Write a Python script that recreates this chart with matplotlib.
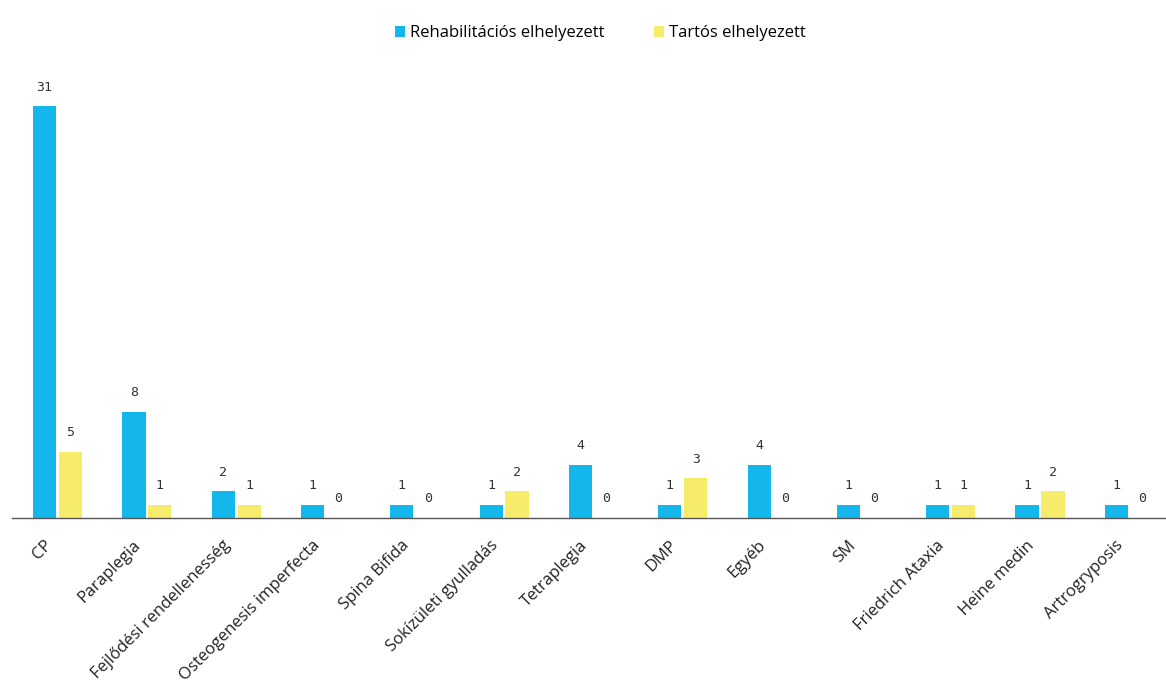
import numpy as np
import matplotlib.pyplot as plt
import matplotlib.transforms as mtransforms

categories = ['CP', 'Paraplegia', 'Fejlődési rendellenesség', 'Osteogenesis imperfecta',
              'Spina Bifida', 'Sokízületi gyulladás', 'Tetraplegia', 'DMP', 'Egyéb',
              'SM', 'Friedrich Ataxia', 'Heine medin', 'Artrogryposis']
rehab = [31, 8, 2, 1, 1, 1, 4, 1, 4, 1, 1, 1, 1]
tartos = [5, 1, 1, 0, 0, 2, 0, 3, 0, 0, 1, 2, 0]

blue = '#14B7EC'
yellow = '#F7EB6B'

plt.rcParams['font.family'] = ['Open Sans', 'DejaVu Sans']

fig = plt.figure(figsize=(11.66, 6.88), dpi=100)
ax = fig.add_axes([12 / 1166, (688 - 518) / 688, 1 - 12 / 1166, (518 - 60) / 688])

x = np.arange(len(categories))
w = 0.26
off = 0.145
b1 = ax.bar(x - off, rehab, w, color=blue, label='Rehabilitációs elhelyezett')
b2 = ax.bar(x + off, tartos, w, color=yellow, label='Tartós elhelyezett')

for bars, vals in ((b1, rehab), (b2, tartos)):
    for rect, v in zip(bars, vals):
        ax.annotate(str(v), (rect.get_x() + rect.get_width() / 2, rect.get_height()),
                    xytext=(0, 9), textcoords='offset points', ha='center', va='bottom',
                    fontsize=9.5, color='#333333', family='DejaVu Sans Mono')

ax.set_xlim(-0.51, 12.41)
ax.set_ylim(0, 34.5)
ax.set_xticks(x)
ax.set_xticklabels(categories, rotation=45, ha='right', rotation_mode='anchor',
                   fontsize=12, color='#222222')
ax.tick_params(axis='x', length=0, pad=14)
shift = mtransforms.ScaledTranslation(-14 / 100, 0, fig.dpi_scale_trans)
for lab in ax.get_xticklabels():
    lab.set_transform(lab.get_transform() + shift)
ax.set_yticks([])
for s in ('top', 'right', 'left'):
    ax.spines[s].set_visible(False)
ax.spines['bottom'].set_color('#555555')
ax.spines['bottom'].set_linewidth(1.0)

fig.legend(loc='upper center', bbox_to_anchor=(0.515, 0.985), ncol=2, frameon=False,
           fontsize=12, handlelength=0.6, handleheight=0.6, handletextpad=0.3,
           columnspacing=3.0)

fig.savefig('out.png', dpi=100)
